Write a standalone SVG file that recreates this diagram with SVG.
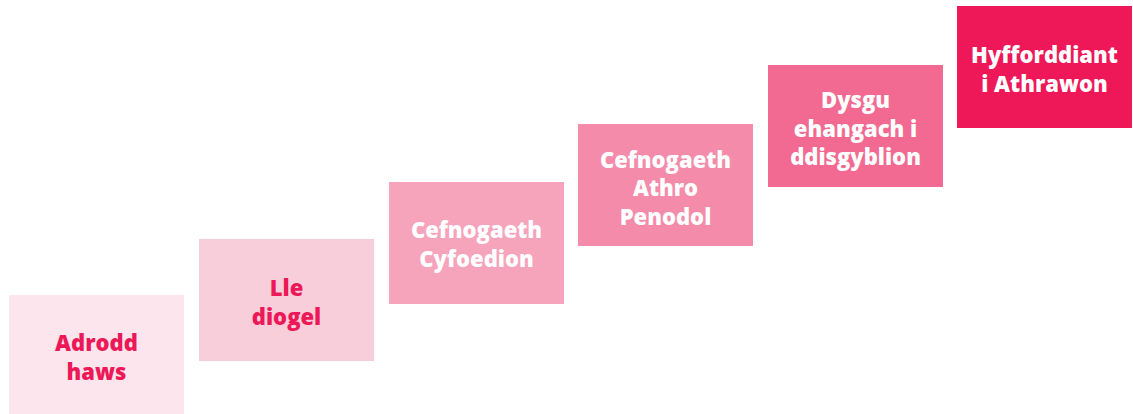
<svg xmlns="http://www.w3.org/2000/svg" width="1133" height="414" viewBox="0 0 1133 414">
<style>
text{font-family:"Open Sans","Liberation Sans",sans-serif;font-weight:800;font-size:22px;text-anchor:middle}
.dark{fill:#ec1857}
.light{fill:#ffffff}
</style>
<rect width="1133" height="414" fill="#ffffff"/>
<g id="node1">
<rect x="9" y="295" width="175" height="122" fill="#fce5ec"/>
<text class="dark" x="96.5" y="351">Adrodd</text>
<text class="dark" x="96.5" y="380">haws</text>
</g>
<g id="node2">
<rect x="199" y="239" width="175" height="122" fill="#f9cedb"/>
<text class="dark" x="286.5" y="296">Lle</text>
<text class="dark" x="286.5" y="325">diogel</text>
</g>
<g id="node3">
<rect x="389" y="182" width="175" height="122" fill="#f6a3bc"/>
<text class="light" x="476.5" y="238">Cefnogaeth</text>
<text class="light" x="476.5" y="267">Cyfoedion</text>
</g>
<g id="node4">
<rect x="578" y="124" width="175" height="122" fill="#f48bab"/>
<text class="light" x="665.5" y="168">Cefnogaeth</text>
<text class="light" x="665.5" y="196">Athro</text>
<text class="light" x="665.5" y="225">Penodol</text>
</g>
<g id="node5">
<rect x="768" y="65" width="175" height="122" fill="#f26a92"/>
<text class="light" x="855.5" y="108">Dysgu</text>
<text class="light" x="855.5" y="137">ehangach i</text>
<text class="light" x="855.5" y="165">ddisgyblion</text>
</g>
<g id="node6">
<rect x="957" y="6" width="175" height="122" fill="#ee1757"/>
<text class="light" x="1044.5" y="63">Hyfforddiant</text>
<text class="light" x="1044.5" y="92">i Athrawon</text>
</g>
<g id="connectors"></g>
</svg>
